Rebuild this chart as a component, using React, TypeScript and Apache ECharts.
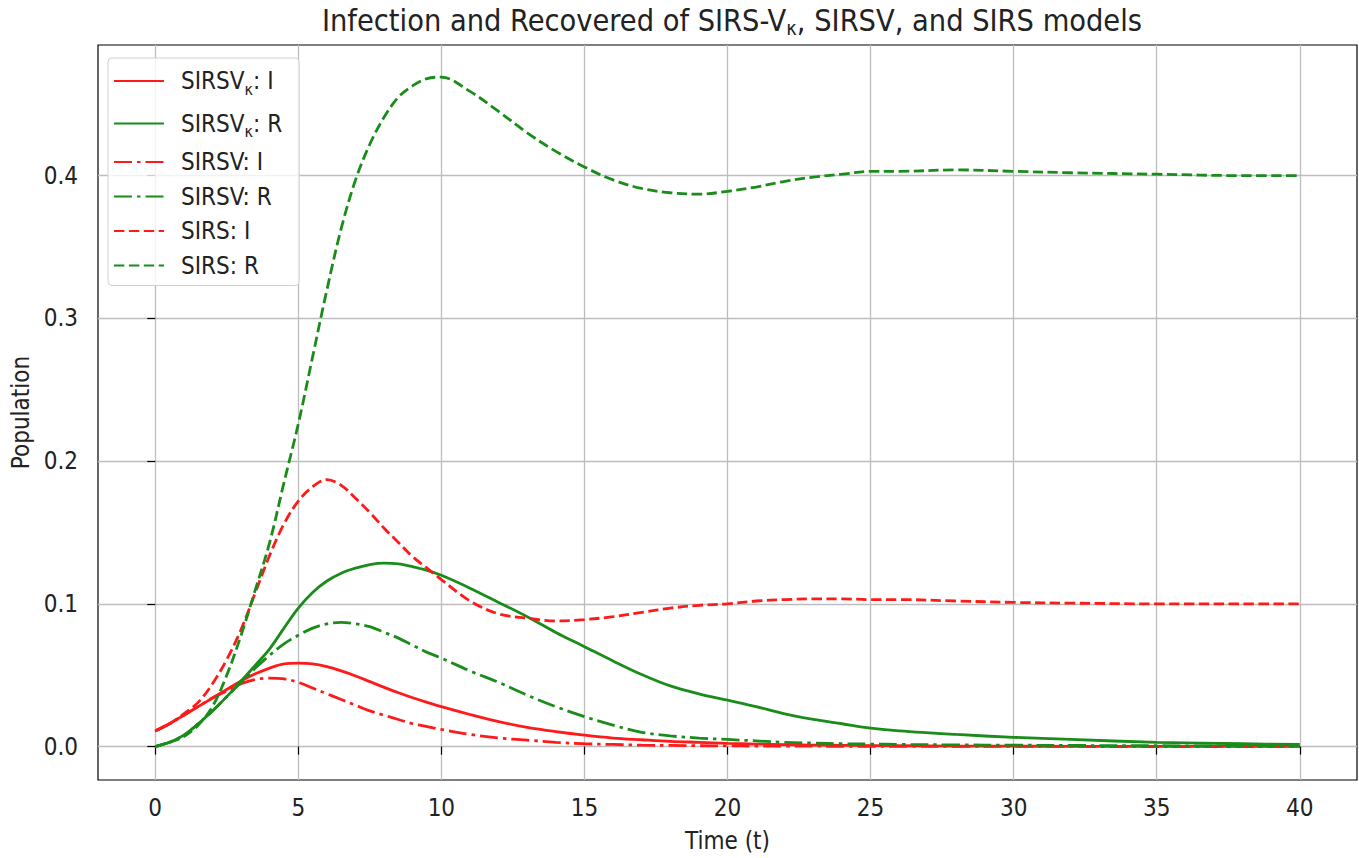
import React, { useEffect, useRef } from "react";
import * as echarts from "echarts";

// ---- data ----
const T = [0, 0.5, 1, 1.5, 2, 2.5, 3, 3.5, 4, 4.5, 5, 5.5, 6, 6.5, 7, 7.5, 8, 8.5, 9, 9.5, 10,
  11, 12, 13, 14, 15, 16, 17, 18, 19, 20, 21, 22, 23, 24, 25, 26,
  28, 30, 32, 35, 38, 40];

const SIRSVK_I = [0.011, 0.016, 0.022, 0.028, 0.034, 0.040, 0.046, 0.051, 0.055, 0.058, 0.0585, 0.058, 0.056, 0.053, 0.0495, 0.0455, 0.0415, 0.0377, 0.0342, 0.031, 0.028,
  0.0225, 0.0175, 0.0135, 0.0105, 0.008, 0.006, 0.0048, 0.0037, 0.003, 0.0023, 0.0018, 0.0014, 0.0011, 0.0009, 0.0007, 0.0006,
  0.0004, 0.0003, 0.0002, 0.0001, 0.0001, 0.0001];

const SIRSVK_R = [0, 0.003, 0.008, 0.016, 0.025, 0.035, 0.046, 0.057, 0.0685, 0.083, 0.097, 0.108, 0.116, 0.1215, 0.125, 0.1275, 0.1285, 0.128, 0.126, 0.1235, 0.120,
  0.111, 0.101, 0.091, 0.080, 0.070, 0.060, 0.0505, 0.0425, 0.037, 0.0325, 0.028, 0.023, 0.019, 0.016, 0.013, 0.011,
  0.0085, 0.0065, 0.005, 0.003, 0.002, 0.0015];

const SIRSV_I = [0.011, 0.016, 0.022, 0.028, 0.034, 0.039, 0.044, 0.047, 0.048, 0.0475, 0.045, 0.041, 0.037, 0.033, 0.029, 0.025, 0.022, 0.019, 0.016, 0.014, 0.012,
  0.0085, 0.006, 0.0045, 0.003, 0.002, 0.0015, 0.001, 0.0008, 0.0006, 0.0005, 0.0004, 0.0003, 0.0003, 0.0002, 0.0002, 0.0002,
  0.0001, 0.0001, 0.0001, 0, 0, 0];

const SIRSV_R = [0, 0.003, 0.008, 0.016, 0.025, 0.035, 0.045, 0.055, 0.064, 0.072, 0.078, 0.083, 0.086, 0.087, 0.086, 0.084, 0.080, 0.076, 0.071, 0.066, 0.062,
  0.053, 0.045, 0.036, 0.028, 0.021, 0.015, 0.010, 0.0075, 0.006, 0.005, 0.004, 0.003, 0.0025, 0.002, 0.0018, 0.0015,
  0.0012, 0.001, 0.0008, 0.0006, 0.0005, 0.0004];

const SIRS_I = [0.011, 0.016, 0.023, 0.031, 0.044, 0.061, 0.082, 0.108, 0.134, 0.156, 0.172, 0.182, 0.187, 0.183, 0.174, 0.164, 0.153, 0.143, 0.133, 0.125, 0.117,
  0.102, 0.093, 0.090, 0.088, 0.089, 0.091, 0.094, 0.097, 0.099, 0.100, 0.102, 0.103, 0.1035, 0.1035, 0.103, 0.103,
  0.102, 0.101, 0.1005, 0.100, 0.100, 0.100];

const SIRS_R = [0, 0.003, 0.007, 0.015, 0.028, 0.050, 0.078, 0.110, 0.143, 0.185, 0.226, 0.273, 0.320, 0.363, 0.397, 0.422, 0.441, 0.455, 0.463, 0.468, 0.469,
  0.459, 0.445, 0.430, 0.417, 0.406, 0.397, 0.391, 0.388, 0.387, 0.389, 0.392, 0.396, 0.399, 0.401, 0.403, 0.403,
  0.404, 0.403, 0.402, 0.401, 0.400, 0.400];

const X_TICKS = [0, 5, 10, 15, 20, 25, 30, 35, 40];
const Y_TICKS = [0, 0.1, 0.2, 0.3, 0.4];

const SERIES_NAMES = ["SIRSVκ: I", "SIRSVκ: R", "SIRSV: I", "SIRSV: R", "SIRS: I", "SIRS: R"];
const SERIES_VALUES = [SIRSVK_I, SIRSVK_R, SIRSV_I, SIRSV_R, SIRS_I, SIRS_R];

// ---- styles ----
const FONT = '"DejaVu Sans Condensed", "DejaVu Sans", sans-serif';
const TEXT = "#222222";
const RED = "#ff1a1a";
const GREEN = "#1a8c1a";
const DASHED = [10.4, 4.5];
const DASHDOT = [18, 5, 3.5, 5];
const SERIES_STYLE = [
  { color: RED, type: "solid" },
  { color: GREEN, type: "solid" },
  { color: RED, type: DASHDOT },
  { color: GREEN, type: DASHDOT },
  { color: RED, type: DASHED },
  { color: GREEN, type: DASHED },
];

export default function App() {
  const ref = useRef<HTMLDivElement>(null);

  useEffect(() => {
    document.body.style.margin = "0";
    document.body.style.overflow = "hidden";
    document.documentElement.style.overflow = "hidden";
    const chart = echarts.init(ref.current!, null, { renderer: "svg" });

    const series = SERIES_NAMES.map((name, k) => ({
      name,
      type: "line",
      data: T.map((t, i) => [t, SERIES_VALUES[k][i]]),
      symbol: "none",
      showSymbol: false,
      smooth: 0.35,
      color: SERIES_STYLE[k].color,
      lineStyle: {
        color: SERIES_STYLE[k].color,
        width: 2.8,
        type: SERIES_STYLE[k].type as any,
        cap: "butt",
      },
      z: 3 + k,
    }));

    const option: any = {
      animation: false,
      backgroundColor: "#ffffff",
      title: {
        text: "Infection and Recovered of SIRS-V{sub|κ}, SIRSV, and SIRS models",
        left: 727,
        textAlign: "center",
        top: -3,
        textStyle: {
          fontFamily: FONT,
          fontSize: 30.4,
          fontWeight: "normal",
          color: TEXT,
          lineHeight: 36,
          rich: {
            sub: {
              fontFamily: FONT,
              fontSize: 20,
              color: TEXT,
              lineHeight: 36,
              verticalAlign: "bottom",
            },
          },
        },
      },
      legend: {
        orient: "vertical",
        left: 108,
        top: 58,
        padding: [7, 17, 8, 5],
        itemWidth: 50,
        itemHeight: 14,
        itemGap: 10.5,
        backgroundColor: "rgba(255,255,255,0.8)",
        borderColor: "#d0d0d0",
        borderWidth: 1,
        borderRadius: 4,
        data: SERIES_NAMES,
        itemStyle: { opacity: 0 },
        formatter: (name: string) => name.replace("κ", "{sub|κ}"),
        textStyle: {
          fontFamily: FONT,
          fontSize: 24,
          color: TEXT,
          lineHeight: 24,
          padding: [0, 0, 0, 12],
          rich: {
            sub: {
              fontFamily: FONT,
              fontSize: 16,
              color: TEXT,
              lineHeight: 32,
              verticalAlign: "bottom",
            },
          },
        },
      },
      grid: {
        left: 98,
        right: 2,
        top: 45,
        bottom: 73,
        show: true,
        borderColor: "#000000",
        borderWidth: 1.2,
        backgroundColor: "transparent",
        containLabel: false,
      },
      xAxis: {
        type: "value",
        min: -2,
        max: 42,
        name: "Time (t)",
        nameLocation: "middle",
        nameGap: 49,
        nameTextStyle: { fontFamily: FONT, fontSize: 24, color: TEXT },
        axisLine: { show: false },
        axisTick: {
          show: true,
          length: 8,
          customValues: X_TICKS,
          lineStyle: { color: "#000", width: 1.2 },
        },
        axisLabel: {
          customValues: X_TICKS,
          margin: 16,
          fontFamily: FONT,
          fontSize: 24,
          color: TEXT,
          formatter: (v: number) => String(v),
        },
        splitLine: { show: true, lineStyle: { color: "#bdbdbd", width: 1.3 } },
      },
      yAxis: {
        type: "value",
        min: -0.0234,
        max: 0.4915,
        name: "Population",
        nameLocation: "middle",
        nameGap: 64,
        nameRotate: 90,
        nameTextStyle: { fontFamily: FONT, fontSize: 24, color: TEXT },
        axisLine: { show: false },
        axisTick: {
          show: true,
          length: 8,
          customValues: Y_TICKS,
          lineStyle: { color: "#000", width: 1.2 },
        },
        axisLabel: {
          customValues: Y_TICKS,
          margin: 20,
          fontFamily: FONT,
          fontSize: 24,
          color: TEXT,
          formatter: (v: number) => v.toFixed(1),
        },
        splitLine: { show: true, lineStyle: { color: "#bdbdbd", width: 1.3 } },
      },
      series,
    };

    chart.setOption(option);
    return () => chart.dispose();
  }, []);

  return (
    <div
      ref={ref}
      style={{ position: "absolute", left: 0, top: 0, width: 1359, height: 858, background: "#fff" }}
    />
  );
}
